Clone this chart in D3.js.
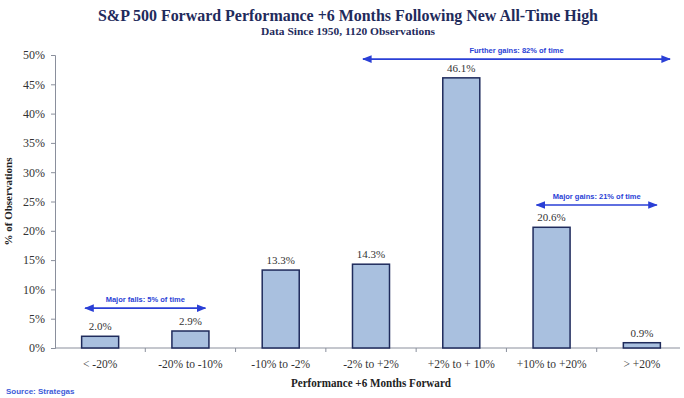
<!DOCTYPE html>
<html>
<head>
<meta charset="utf-8">
<script src="https://cdn.jsdelivr.net/npm/d3@7"></script>
<style>
  body { margin: 0; background: #fff; }
  svg { display: block; }
</style>
</head>
<body>
<svg id="chart" width="684" height="398"></svg>
<script>
const categories = ['< -20%', '-20% to -10%', '-10% to -2%', '-2% to +2%', '+2% to + 10%', '+10% to +20%', '> +20%'];
const shares = [2.0, 2.9, 13.3, 14.3, 46.1, 20.6, 0.9];
const yTicks = [0, 5, 10, 15, 20, 25, 30, 35, 40, 45, 50];

// annotation arrows: label, first category, last category, level in %
const spans = [
    { label: 'Further gains: 82% of time', from: 3, to: 6, level: 49.3 },
    { label: 'Major gains: 21% of time', from: 5, to: 6, level: 24.4 },
    { label: 'Major falls: 5% of time', from: 0, to: 1, level: 6.8 }
];

const navy = '#1f2b5c';
const blue = '#2a3fd6';
const serif = '"Liberation Serif", "DejaVu Serif", serif';
const sans = '"Liberation Sans", Arial, sans-serif';

const svg = d3.select('#chart');

const x = d3.scaleBand().domain(categories).range([55, 687]).paddingInner(0.59).paddingOuter(0.295);
const y = d3.scaleLinear().domain([0, 50]).range([348, 55]);
const step = x.step();
const mid = d => x(d) + x.bandwidth() / 2;

// title
svg.append('text')
    .attr('x', 348).attr('y', 21)
    .attr('text-anchor', 'middle')
    .style('font-family', serif).style('font-weight', 'bold').style('font-size', '17px')
    .attr('fill', navy)
    .attr('textLength', 500).attr('lengthAdjust', 'spacingAndGlyphs')
    .text('S&P 500 Forward Performance +6 Months Following New All-Time High');

svg.append('text')
    .attr('x', 348).attr('y', 35)
    .attr('text-anchor', 'middle')
    .style('font-family', serif).style('font-weight', 'bold').style('font-size', '11px')
    .attr('fill', navy)
    .attr('textLength', 174).attr('lengthAdjust', 'spacingAndGlyphs')
    .text('Data Since 1950, 1120 Observations');

// y axis
const yAxis = svg.append('g')
    .attr('transform', 'translate(55,0)')
    .call(d3.axisLeft(y).tickValues(yTicks).tickFormat(d => d + '%').tickSizeOuter(0).tickSize(4).tickPadding(6));
yAxis.select('.domain').attr('stroke', '#8a8f9c');
yAxis.selectAll('.tick line').attr('stroke', '#8a8f9c');
yAxis.selectAll('.tick text')
    .style('font-family', serif).style('font-size', '12px').attr('fill', '#333');

// x axis line with ticks between categories
svg.append('line')
    .attr('x1', 55).attr('x2', 680).attr('y1', y(0)).attr('y2', y(0))
    .attr('stroke', '#8a8f9c');
svg.selectAll('.xtick')
    .data(categories.slice(1))
    .enter()
    .append('line')
    .attr('class', 'xtick')
    .attr('x1', d => mid(d) - step / 2)
    .attr('x2', d => mid(d) - step / 2)
    .attr('y1', y(0)).attr('y2', y(0) + 4)
    .attr('stroke', '#8a8f9c');

svg.selectAll('.xlabel')
    .data(categories)
    .enter()
    .append('text')
    .attr('class', 'xlabel')
    .attr('x', d => mid(d))
    .attr('y', 368)
    .attr('text-anchor', 'middle')
    .style('font-family', serif).style('font-size', '11.5px')
    .attr('fill', '#333')
    .text(d => d);

// bars
svg.selectAll('.bar')
    .data(categories)
    .enter()
    .append('rect')
    .attr('class', 'bar')
    .attr('x', d => x(d))
    .attr('y', (d, i) => y(shares[i]))
    .attr('width', x.bandwidth())
    .attr('height', (d, i) => y(0) - y(shares[i]))
    .attr('fill', '#a9c0df')
    .attr('stroke', navy)
    .attr('stroke-width', 1.5);

svg.selectAll('.value')
    .data(categories)
    .enter()
    .append('text')
    .attr('class', 'value')
    .attr('x', d => mid(d))
    .attr('y', (d, i) => y(shares[i]) - 6)
    .attr('text-anchor', 'middle')
    .style('font-family', serif).style('font-size', '11px')
    .attr('fill', '#333')
    .text((d, i) => shares[i].toFixed(1) + '%');

// axis titles
svg.append('text')
    .attr('transform', `translate(12, ${(y(0) + y(50)) / 2}) rotate(-90)`)
    .attr('text-anchor', 'middle')
    .style('font-family', serif).style('font-weight', 'bold').style('font-size', '11px')
    .attr('fill', '#222')
    .text('% of Observations');

svg.append('text')
    .attr('x', 371).attr('y', 387)
    .attr('text-anchor', 'middle')
    .style('font-family', serif).style('font-weight', 'bold').style('font-size', '12px')
    .attr('fill', '#222')
    .attr('textLength', 160).attr('lengthAdjust', 'spacingAndGlyphs')
    .text('Performance +6 Months Forward');

svg.append('text')
    .attr('x', 6).attr('y', 394)
    .style('font-family', sans).style('font-weight', 'bold').style('font-size', '8px')
    .attr('fill', '#3d5bd9')
    .text('Source: Strategas');

// annotation arrows
const defs = svg.append('defs');
defs.append('marker')
    .attr('id', 'head')
    .attr('viewBox', '0 0 10 10')
    .attr('refX', 9).attr('refY', 5)
    .attr('markerWidth', 6).attr('markerHeight', 6)
    .attr('orient', 'auto-start-reverse')
    .append('path')
    .attr('d', 'M0,1 L10,5 L0,9 Z')
    .attr('fill', blue);

// the wide arrow runs from just left of its first bar to the chart edge
const spanLeft = s => s.to - s.from > 1 ? mid(categories[s.from]) - 8 : mid(categories[s.from]) - 15;
const spanRight = s => s.to - s.from > 1 ? 670 : mid(categories[s.to]) + 15;

const arrows = svg.selectAll('.span')
    .data(spans)
    .enter()
    .append('g')
    .attr('class', 'span');

arrows.append('line')
    .attr('x1', spanLeft)
    .attr('x2', spanRight)
    .attr('y1', s => y(s.level)).attr('y2', s => y(s.level))
    .attr('stroke', blue).attr('stroke-width', 1.6)
    .attr('marker-start', 'url(#head)')
    .attr('marker-end', 'url(#head)');

arrows.append('text')
    .attr('x', s => (spanLeft(s) + spanRight(s)) / 2)
    .attr('y', s => y(s.level) - 6)
    .attr('text-anchor', 'middle')
    .style('font-family', sans).style('font-weight', 'bold').style('font-size', '7.5px')
    .attr('fill', blue)
    .text(s => s.label);
</script>
</body>
</html>
